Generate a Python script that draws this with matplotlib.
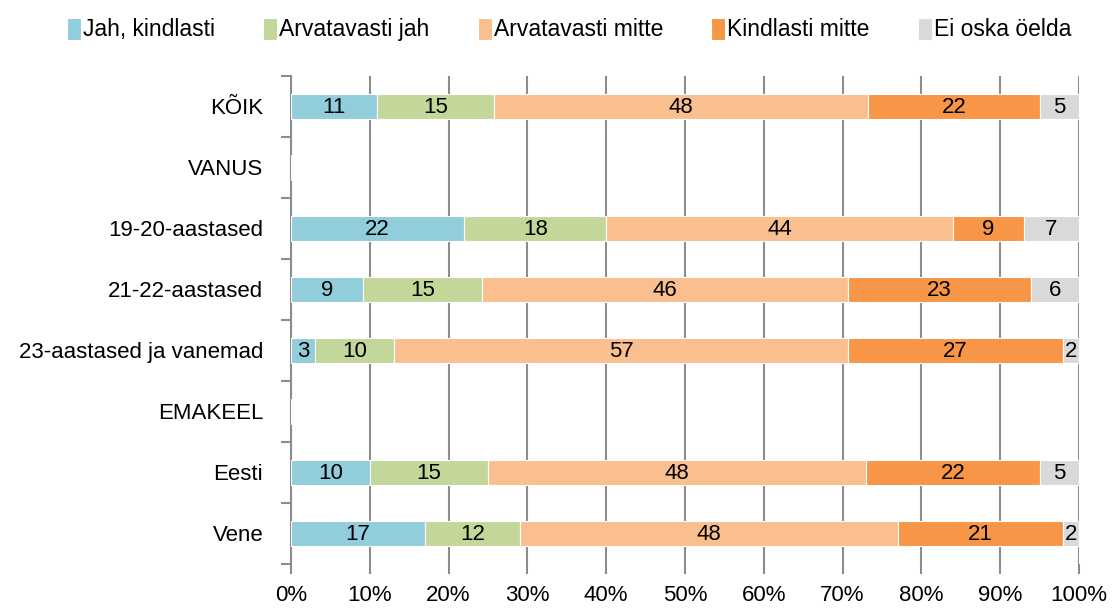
import matplotlib
matplotlib.use("Agg")
import matplotlib.pyplot as plt
import numpy as np

plt.rcParams["font.family"] = ["Liberation Sans", "DejaVu Sans"]

# categories top -> bottom
categories = ["KÕIK", "VANUS", "19-20-aastased", "21-22-aastased",
              "23-aastased ja vanemad", "EMAKEEL", "Eesti", "Vene"]
series = ["Jah, kindlasti", "Arvatavasti jah", "Arvatavasti mitte",
          "Kindlasti mitte", "Ei oska öelda"]

jah_kindlasti = [11, 0, 22, 9, 3, 0, 10, 17]
arvatavasti_jah = [15, 0, 18, 15, 10, 0, 15, 12]
arvatavasti_mitte = [48, 0, 44, 46, 57, 0, 48, 48]
kindlasti_mitte = [22, 0, 9, 23, 27, 0, 22, 21]
ei_oska = [5, 0, 7, 6, 2, 0, 5, 2]

colors = ["#92CDDC", "#C4D79B", "#FABF8F", "#F79646", "#D9D9D9"]

values = np.array([jah_kindlasti, arvatavasti_jah, arvatavasti_mitte,
                   kindlasti_mitte, ei_oska], dtype=float)
totals = values.sum(axis=0)
shares = np.divide(values, totals, out=np.zeros_like(values), where=totals > 0)

fig = plt.figure(figsize=(11.14, 6.08), dpi=100)
ax = fig.add_axes([0.2612, 0.0724, 0.7074, 0.8026])

y = np.arange(len(categories))
left = np.zeros(len(categories))
for i, name in enumerate(series):
    bars = ax.barh(y, shares[i], left=left, height=0.4, color=colors[i],
                   edgecolor="white", linewidth=0.8, label=name, zorder=3)
    for j, b in enumerate(bars):
        if values[i, j] > 0:
            ax.text(left[j] + shares[i, j] / 2, y[j] + 0.02, f"{int(values[i, j])}",
                    ha="center", va="center", fontsize=16, color="black", zorder=4)
    left += shares[i]

ax.set_ylim(len(categories) - 0.5, -0.5)
ax.set_xlim(0, 1)
ax.set_xticks(np.linspace(0, 1, 11))
ax.set_xticklabels([f"{int(v)}%" for v in np.linspace(0, 100, 11)], fontsize=16)
ax.set_yticks(y)
ax.set_yticklabels(categories, fontsize=16)
ax.tick_params(axis="y", length=0, pad=20)
ax.set_yticks(np.arange(len(categories) + 1) - 0.5, minor=True)
ax.tick_params(axis="y", which="minor", length=7, width=1.5, color="#8C8C8C")
ax.tick_params(axis="x", length=7, width=1.5, color="#8C8C8C", pad=8)

ax.grid(axis="x", color="#8C8C8C", linewidth=1.5, zorder=0)
for side in ["top", "right", "bottom"]:
    ax.spines[side].set_visible(False)
ax.spines["left"].set_color("#8C8C8C")
ax.spines["left"].set_linewidth(1.5)

fig.legend(loc="upper center", bbox_to_anchor=(0.511, 1.005), ncol=5, frameon=False,
           fontsize=16.5, handlelength=0.6, handleheight=1.1, handletextpad=0.1,
           columnspacing=2.1)

fig.savefig("out.png", dpi=100)
